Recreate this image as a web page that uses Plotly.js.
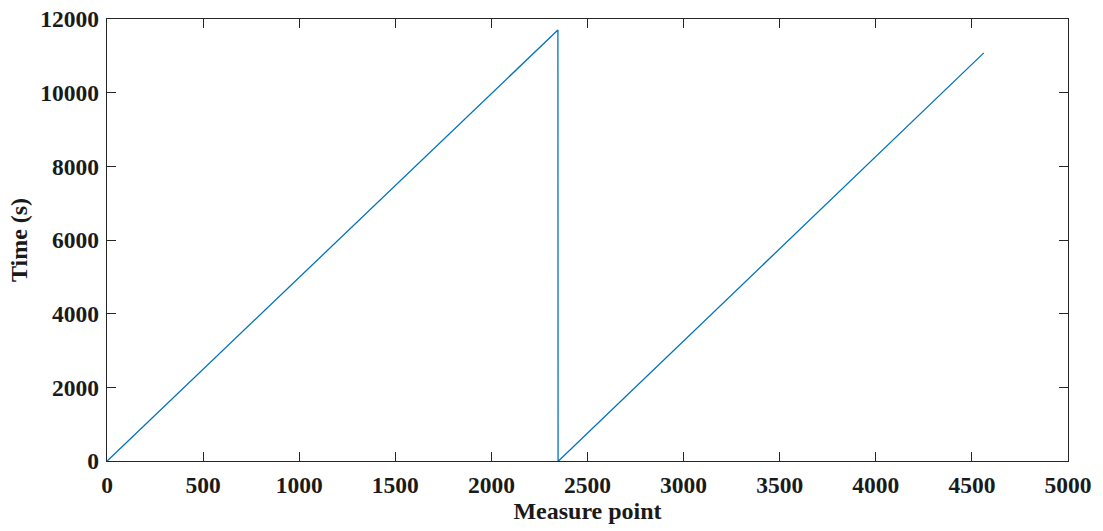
<!DOCTYPE html>
<html>
<head>
<meta charset="utf-8">
<script src="https://cdn.plot.ly/plotly-3.0.1.min.js"></script>
<style>html,body{margin:0;padding:0;background:#fff;}#chart{width:1103px;height:531px;}</style>
</head>
<body>
<div id="chart"></div>
<script>
// Measure point index and elapsed time (s)
const measurePoints = [1, 2346, 2347, 2349, 4562];
const timeSeconds   = [0, 11700, 0, 0, 11080];

const xTickVals = [0, 500, 1000, 1500, 2000, 2500, 3000, 3500, 4000, 4500, 5000];
const yTickVals = [0, 2000, 4000, 6000, 8000, 10000, 12000];

const fontFam = '"Liberation Serif", "Times New Roman", serif';

const trace = {
  x: measurePoints,
  y: timeSeconds,
  type: 'scatter',
  mode: 'lines',
  line: {color: '#0072BD', width: 1.3},
  hoverinfo: 'skip'
};

const axisCommon = {
  showgrid: false,
  zeroline: false,
  showline: true,
  linecolor: '#262626',
  linewidth: 1.2,
  mirror: 'ticks',
  ticks: 'inside',
  ticklen: 9,
  tickwidth: 1,
  tickcolor: '#262626',
  tickfont: {family: fontFam, size: 23.5, color: '#1a1a1a', weight: 'bold'}
};

const layout = {
  width: 1103,
  height: 531,
  margin: {l: 107, r: 35, t: 19, b: 70},
  paper_bgcolor: '#ffffff',
  plot_bgcolor: '#ffffff',
  showlegend: false,
  xaxis: Object.assign({}, axisCommon, {
    range: [0, 5000],
    tickvals: xTickVals,
    ticktext: xTickVals.map(String),
    ticklabelstandoff: 3,
    title: {text: '<b>Measure point</b>', font: {family: fontFam, size: 24, color: '#1a1a1a'}, standoff: 2}
  }),
  yaxis: Object.assign({}, axisCommon, {
    range: [0, 12000],
    tickvals: yTickVals,
    ticktext: yTickVals.map(String),
    ticklabelstandoff: 2,
    title: {text: '<b>Time (s)</b>', font: {family: fontFam, size: 24, color: '#1a1a1a'}, standoff: 6}
  })
};

Plotly.newPlot('chart', [trace], layout, {displayModeBar: false, staticPlot: true});
</script>
</body>
</html>
